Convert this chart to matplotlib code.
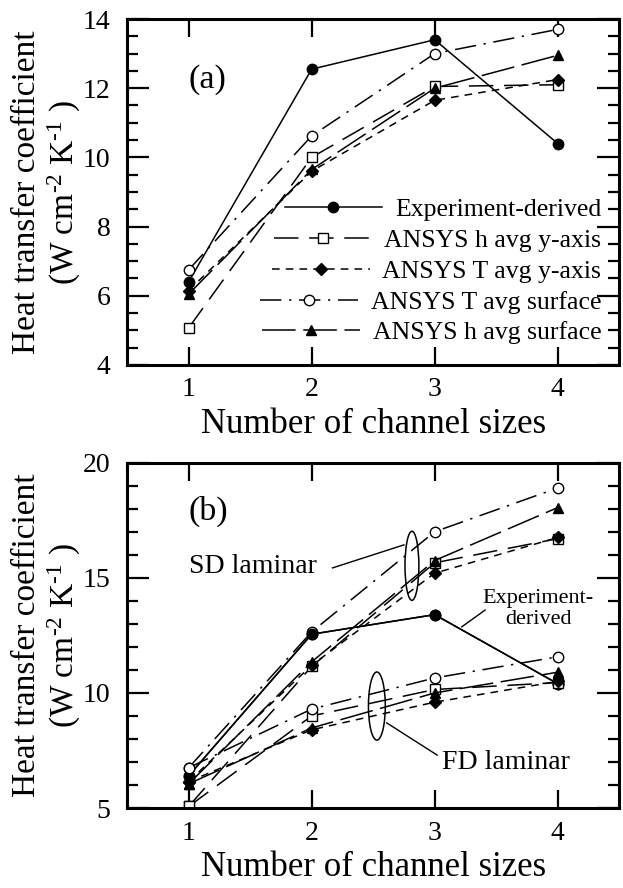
import matplotlib
matplotlib.use("Agg")
import matplotlib.pyplot as plt
from matplotlib.patches import Ellipse
from matplotlib.ticker import MultipleLocator

plt.rcParams['font.family'] = ['Liberation Serif', 'DejaVu Serif']
plt.rcParams['mathtext.fontset'] = 'custom'
plt.rcParams['mathtext.rm'] = 'Liberation Serif'
plt.rcParams['mathtext.it'] = 'Liberation Serif:italic'

sizes = [1, 2, 3, 4]

# (a) coefficients per number of channel sizes
exp_h = [6.4, 12.55, 13.4, 10.4]
a_h_yaxis = [5.07, 10.0, 12.05, 12.1]
a_T_yaxis = [6.15, 9.6, 11.65, 12.25]
a_T_surf = [6.75, 10.62, 13.0, 13.7]
a_h_surf = [6.05, 9.65, 12.0, 12.95]

# (b) simultaneously developing (SD) and fully developed (FD) laminar
sd_h_yaxis = [5.07, 11.15, 15.65, 16.7]
sd_T_yaxis = [6.15, 11.2, 15.2, 16.75]
sd_T_surf = [6.75, 12.65, 17.0, 18.9]
sd_h_surf = [6.05, 11.35, 15.75, 18.05]

fd_h_yaxis = [5.07, 9.0, 10.15, 10.45]
fd_T_yaxis = [6.15, 8.4, 9.6, 10.5]
fd_T_surf = [6.75, 9.3, 10.65, 11.57]
fd_h_surf = [6.05, 8.48, 10.0, 10.9]

labels = ["Experiment-derived", "ANSYS h avg y-axis", "ANSYS T avg y-axis",
          "ANSYS T avg surface", "ANSYS h avg surface"]

styles = [
    dict(ls='-', marker='o', mfc='k', mec='k'),
    dict(ls=(0, (16, 7)), marker='s', mfc='white', mec='k'),
    dict(ls=(0, (5, 4)), marker='D', mfc='k', mec='k', ms=6),
    dict(ls=(0, (14, 5, 1.5, 5)), marker='o', mfc='white', mec='k'),
    dict(ls=(0, (22, 5)), marker='^', mfc='k', mec='k'),
]


def draw(ax, series, with_labels):
    for i, (vals, st) in enumerate(zip(series, styles)):
        kw = dict(color='k', lw=1.1, ms=7.5, mew=1.0)
        kw.update(st)
        ax.plot(sizes, vals, label=labels[i] if with_labels else None, **kw)


def style_axes(ax, ylim, major, minor):
    ax.set_xlim(0.5, 4.5)
    ax.set_ylim(*ylim)
    ax.xaxis.set_major_locator(MultipleLocator(1))
    ax.yaxis.set_major_locator(MultipleLocator(major))
    ax.yaxis.set_minor_locator(MultipleLocator(minor))
    ax.tick_params(which='both', direction='in', top=True, right=True,
                   labelsize=20, width=1.6)
    ax.tick_params(which='major', length=16)
    ax.tick_params(which='minor', length=8)
    ax.tick_params(axis='x', which='major', length=13, pad=9)
    ax.tick_params(axis='y', which='major', pad=12)
    for sp in ax.spines.values():
        sp.set_linewidth(2.2)
    ax.set_xlabel("Number of channel sizes", fontsize=25, labelpad=4)
    ax.set_ylabel("Heat transfer coefficient\n(W cm$^{\\text{-}2}$ K$^{\\text{-}1}$ )",
                  fontsize=24, linespacing=1.15)
    ax.yaxis.set_label_coords(-0.09, 0.5)


fig = plt.figure(figsize=(6.23, 8.88), dpi=100)
ax1 = fig.add_axes([0.204, 0.589, 0.790, 0.3896])
ax2 = fig.add_axes([0.204, 0.090, 0.790, 0.389])

# panel (a)
draw(ax1, [exp_h, a_h_yaxis, a_T_yaxis, a_T_surf, a_h_surf], True)
style_axes(ax1, (4, 14), 2, 0.5)
ax1.text(0.124, 0.824, "(a)", transform=ax1.transAxes, fontsize=24.5,
         va='center')
leg = ax1.legend(loc='lower right', bbox_to_anchor=(1.0, 0.008),
                 frameon=False, fontsize=18.5, handlelength=3.8,
                 handletextpad=0.5, labelspacing=0.3, numpoints=1,
                 borderpad=0.2)
for col in leg._legend_handle_box.get_children():
    col.align = 'right'

# panel (b)
draw(ax2, [exp_h, sd_h_yaxis, sd_T_yaxis, sd_T_surf, sd_h_surf], False)
draw(ax2, [exp_h, fd_h_yaxis, fd_T_yaxis, fd_T_surf, fd_h_surf], False)
style_axes(ax2, (5, 20), 5, 1)
ax2.text(0.124, 0.858, "(b)", transform=ax2.transAxes, fontsize=24.5,
         va='center')

ax2.add_patch(Ellipse((2.815, 15.52), 0.113, 3.0, fill=False, lw=1.1, ec='k'))
ax2.text(1.0, 15.5, "SD laminar", fontsize=20, ha='left', va='center')
ax2.plot([2.17, 2.75], [15.43, 16.43], color='k', lw=1.0)

ax2.add_patch(Ellipse((2.53, 9.43), 0.137, 2.96, fill=False, lw=1.1, ec='k'))
ax2.text(3.06, 7.0, "FD laminar", fontsize=20, ha='left', va='center')
ax2.plot([2.61, 3.02], [8.7, 7.3], color='k', lw=1.0)

ax2.text(3.84, 13.65, "Experiment-\nderived", fontsize=16, ha='center',
         va='center', linespacing=1.1)
ax2.plot([3.22, 3.41], [12.87, 13.6], color='k', lw=1.0)

fig.savefig("out.png", dpi=100)
